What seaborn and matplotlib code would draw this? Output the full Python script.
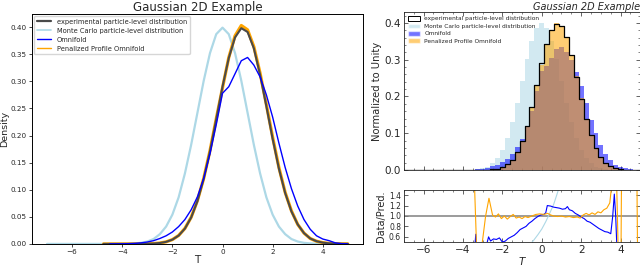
import numpy as np
import matplotlib
matplotlib.use("Agg")
import matplotlib.pyplot as plt
from matplotlib.patches import Patch
from matplotlib.ticker import AutoMinorLocator
import seaborn as sns

# ---- data ------------------------------------------------------------------
# T grid for the smoothed densities (left panel) and histogram bins (right panel)
t_grid = [-7.00, -6.75, -6.50, -6.25, -6.00, -5.75, -5.50, -5.25,
          -5.00, -4.75, -4.50, -4.25, -4.00, -3.75, -3.50, -3.25,
          -3.00, -2.75, -2.50, -2.25, -2.00, -1.75, -1.50, -1.25,
          -1.00, -0.75, -0.50, -0.25, 0.00, 0.25, 0.50, 0.75,
          1.00, 1.25, 1.50, 1.75, 2.00, 2.25, 2.50, 2.75,
          3.00, 3.25, 3.50, 3.75, 4.00, 4.25, 4.50, 4.75,
          5.00]
nan = np.nan
dens_mc = [0, 0, 0, 0, 0, 0, 0, 0,
           0, 0, 0, 0, 0.0001, 0.0004, 0.0009, 0.002,
           0.0044, 0.009, 0.018, 0.032, 0.054, 0.086, 0.130, 0.183,
           0.242, 0.301, 0.352, 0.387, 0.399, 0.387, 0.352, 0.301,
           0.242, 0.183, 0.130, 0.086, 0.054, 0.032, 0.018, 0.009,
           0.0044, 0.002, 0.0009, 0.0004, 0.0001, 0, 0, 0,
           0]
dens_exp = [nan, nan, nan, nan, nan, nan, nan, nan,
            nan, 0, 0, 0, 0, 0, 0.0001, 0.0001,
            0.0003, 0.0007, 0.0017, 0.0038, 0.0079, 0.0154, 0.0283, 0.0488,
            0.079, 0.120, 0.171, 0.230, 0.290, 0.343, 0.381, 0.398,
            0.391, 0.361, 0.312, 0.254, 0.194, 0.139, 0.094, 0.060,
            0.036, 0.020, 0.010, 0.005, 0.0024, 0.001, 0.0004, 0.0002,
            0.0001]
dens_omni = [nan, nan, nan, nan, nan, nan, nan, nan,
             nan, nan, 0, 0, 0.0002, 0.0005, 0.001, 0.002,
             0.0035, 0.006, 0.010, 0.015, 0.022, 0.032, 0.045, 0.063,
             0.087, 0.121, 0.166, 0.220, 0.278, 0.290, 0.314, 0.338,
             0.344, 0.330, 0.308, 0.275, 0.234, 0.186, 0.141, 0.102,
             0.070, 0.045, 0.027, 0.015, 0.009, 0.006, 0.002, 0.0005,
             0.0001]
dens_ppo = [nan, nan, nan, nan, nan, nan, nan, nan,
            nan, 0, 0, 0, 0, 0, 0.0001, 0.0001,
            0.0003, 0.0007, 0.0017, 0.0038, 0.0080, 0.0156, 0.0286, 0.0492,
            0.080, 0.121, 0.172, 0.231, 0.288, 0.344, 0.384, 0.403,
            0.395, 0.364, 0.315, 0.257, 0.197, 0.141, 0.095, 0.061,
            0.036, 0.020, 0.010, 0.005, 0.0024, 0.001, 0.0004, 0.0002,
            0.0001]

# ratio panel (Data/Pred.)
ratio_mc_t = [-0.8, -0.6, -0.4, -0.2, 0.0, 0.2, 0.4, 0.6, 0.8, 1.0]
ratio_mc = [0.38, 0.45, 0.54, 0.64, 0.75, 0.89, 1.05, 1.22, 1.45, 1.70]

ratio_omni_t = [-3.42, -3.35, -3.28, -3.0, -2.8, -2.7, -2.6, -2.45, -2.3, -2.15,
                -2.0, -1.85, -1.7, -1.55, -1.4, -1.25, -1.1, -0.95, -0.8, -0.65,
                -0.5, -0.35, -0.2, -0.05, 0.1, 0.2, 0.28, 0.45, 0.6, 0.75,
                0.9, 1.05, 1.2, 1.3, 1.4, 1.55, 1.7, 1.85, 2.0, 2.15,
                2.3, 2.45, 2.6, 2.75, 2.9, 3.05, 3.2, 3.35, 3.5, 3.6,
                3.68, 3.75, 3.82]
ratio_omni = [0.3, 0.65, 0.3, 0.35, 0.45, 0.6, 0.52, 0.56, 0.55, 0.58,
              0.5, 0.52, 0.57, 0.6, 0.63, 0.68, 0.74, 0.77, 0.8, 0.86,
              0.9, 0.95, 0.99, 1.02, 1.03, 1.06, 1.2, 1.19, 1.17, 1.16,
              1.15, 1.13, 1.14, 1.18, 1.12, 1.1, 1.05, 1.02, 0.98, 0.95,
              0.9, 0.88, 0.84, 0.8, 0.76, 0.73, 0.7, 0.69, 0.66, 1.0,
              1.42, 1.0, 0.3]

ratio_ppo_t = [-3.45, -3.3, -3.05, -2.85, -2.68, -2.5, -2.35, -2.2, -2.05, -1.9,
               -1.75, -1.6, -1.45, -1.3, -1.15, -1.0, -0.85, -0.7, -0.5, -0.3,
               -0.1, 0.1, 0.3, 0.45, 0.6, 0.8, 1.0, 1.2, 1.4, 1.6,
               1.8, 1.95, 2.1, 2.25, 2.4, 2.55, 2.7, 2.85, 3.0, 3.15,
               3.3, 3.45, 3.55, 3.8, 3.88, 4.02, 4.05, 4.82, 4.86]
ratio_ppo = [2.0, 0.3, 0.4, 1.0, 1.34, 1.02, 0.98, 1.04, 0.95, 1.0,
             0.94, 0.99, 1.03, 0.96, 0.98, 0.95, 0.99, 0.97, 1.0, 1.03,
             1.04, 1.03, 1.05, 1.02, 1.0, 0.99, 1.0, 0.98, 0.99, 0.97,
             0.98, 0.96, 1.02, 1.05, 1.02, 1.06, 1.03, 1.08, 1.06, 1.12,
             1.15, 1.25, 1.6, 1.6, 0.3, 0.3, 2.0, 2.0, 0.3]

labels = ["experimental particle-level distribution",
          "Monte Carlo particle-level distribution",
          "Omnifold",
          "Penalized Profile Omnifold"]

# ---- figure ----------------------------------------------------------------
sns.set_style("ticks")
plt.rcParams['font.family'] = ['DejaVu Sans']

fig = plt.figure(figsize=(6.4, 2.66), dpi=100)

# left: smoothed densities
ax1 = fig.add_axes([0.05, 0.083, 0.517, 0.864])
sns.lineplot(x=t_grid, y=dens_mc, ax=ax1, color="lightblue", lw=1.6, zorder=1)
sns.lineplot(x=t_grid, y=dens_ppo, ax=ax1, color="orange", lw=2.3, zorder=2)
sns.lineplot(x=t_grid, y=dens_exp, ax=ax1, color="#4a4a4a", lw=1.5, zorder=3)
sns.lineplot(x=t_grid, y=dens_omni, ax=ax1, color="blue", lw=1.0, zorder=4)
ax1.set_xlim(-7.6, 5.6)
ax1.set_ylim(0, 0.424)
yt = [0.0, 0.05, 0.10, 0.15, 0.20, 0.25, 0.30, 0.35, 0.40]
ax1.set_yticks(yt)
ax1.set_yticklabels([f"{v:.2f}" for v in yt])
ax1.set_xticks([-6, -4, -2, 0, 2, 4])
ax1.set_xticklabels(["\u22126", "\u22124", "\u22122", "0", "2", "4"])
ax1.tick_params(labelsize=5.2, length=2.5, width=0.6, pad=1.2)
for s in ax1.spines.values():
    s.set_linewidth(0.7)
    s.set_color("black")
ax1.set_xlabel("T", fontsize=7.5, labelpad=0)
ax1.set_ylabel("Density", fontsize=6.8, labelpad=1)
ax1.set_title("Gaussian 2D Example", fontsize=8.5, pad=2)
leg_lines = [plt.Line2D([], [], color="#4a4a4a", lw=1.6),
             plt.Line2D([], [], color="lightblue", lw=1.2),
             plt.Line2D([], [], color="blue", lw=1.0),
             plt.Line2D([], [], color="orange", lw=1.0)]
ax1.legend(leg_lines, labels, loc="upper left", fontsize=4.8, frameon=True,
           handlelength=2.2, borderaxespad=0.3, labelspacing=0.45)

# right top: histograms
bin_edges = [t - 0.125 for t in t_grid] + [t_grid[-1] + 0.125]
ax2 = fig.add_axes([0.631, 0.361, 0.3695, 0.594])
sns.histplot(x=t_grid, weights=np.nan_to_num(dens_mc), bins=bin_edges, stat="density",
             element="step", fill=True, color="lightblue", alpha=0.55, lw=0, ax=ax2)
sns.histplot(x=t_grid, weights=np.nan_to_num(dens_omni), bins=bin_edges, stat="density",
             element="step", fill=True, color="blue", alpha=0.55, lw=0, ax=ax2)
sns.histplot(x=t_grid, weights=np.nan_to_num(dens_ppo), bins=bin_edges, stat="density",
             element="step", fill=True, color="orange", alpha=0.55, lw=0, ax=ax2)
sns.histplot(x=t_grid, weights=np.nan_to_num(dens_exp), bins=bin_edges, stat="density",
             element="step", fill=False, color="black", lw=0.9, ax=ax2)
ax2.set_xlim(-7, 5)
ax2.set_ylim(0, 0.43)
ax2.set_yticks([0.0, 0.1, 0.2, 0.3, 0.4])
ax2.set_xticks([-6, -4, -2, 0, 2, 4])
ax2.set_xticklabels([])
ax2.xaxis.set_minor_locator(AutoMinorLocator())
ax2.yaxis.set_minor_locator(AutoMinorLocator())
ax2.tick_params(which="both", direction="in", top=True, right=True, labelsize=7.5, pad=2)
ax2.tick_params(which="major", length=3, width=0.5)
ax2.tick_params(which="minor", length=1.5, width=0.4)
ax2.set_xlabel("")
ax2.set_ylabel("Normalized to Unity", fontsize=7.2, labelpad=2)
ax2.set_title("Gaussian 2D Example", loc="right", fontsize=7, style="italic", pad=1.5)
for s in ax2.spines.values():
    s.set_linewidth(0.6)
leg_patches = [Patch(facecolor="none", edgecolor="black", lw=0.7),
               Patch(facecolor="lightblue", alpha=0.55),
               Patch(facecolor="blue", alpha=0.55),
               Patch(facecolor="orange", alpha=0.55)]
ax2.legend(leg_patches, labels, loc="upper left", fontsize=4.2, frameon=False,
           handlelength=2.0, handleheight=0.9, borderaxespad=0.3, labelspacing=0.35)

# right bottom: ratio
ax3 = fig.add_axes([0.631, 0.090, 0.3695, 0.196])
ax3.axhline(1.0, color="gray", lw=1.1, zorder=1)
sns.lineplot(x=ratio_mc_t, y=ratio_mc, ax=ax3, color="lightblue", lw=0.8)
sns.lineplot(x=ratio_omni_t, y=ratio_omni, ax=ax3, color="blue", lw=0.8)
sns.lineplot(x=ratio_ppo_t, y=ratio_ppo, ax=ax3, color="orange", lw=0.8)
ax3.set_xlim(-7, 5)
ax3.set_ylim(0.5, 1.5)
ax3.set_yticks([0.6, 0.8, 1.0, 1.2, 1.4])
ax3.set_xticks([-6, -4, -2, 0, 2, 4])
ax3.set_xticklabels(["\u22126", "\u22124", "\u22122", "0", "2", "4"])
ax3.xaxis.set_minor_locator(AutoMinorLocator())
ax3.tick_params(which="both", direction="in", top=True, right=True, pad=2)
ax3.tick_params(axis="x", labelsize=7.5)
ax3.tick_params(axis="y", labelsize=5.5)
ax3.tick_params(which="major", length=3, width=0.5)
ax3.tick_params(which="minor", length=1.5, width=0.4)
ax3.set_xlabel("$T$", fontsize=7.5, labelpad=0)
ax3.set_ylabel("Data/Pred.", fontsize=7, labelpad=2)
for s in ax3.spines.values():
    s.set_linewidth(0.6)

fig.savefig("out.png", dpi=100)
